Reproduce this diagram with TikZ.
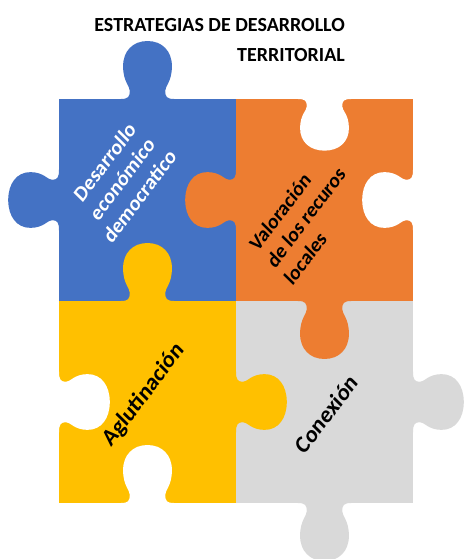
\documentclass[tikz,border=0pt]{standalone}
\usepackage{fontspec}
\setmainfont{Carlito}
\definecolor{pblue}{HTML}{4472C4}
\definecolor{porange}{HTML}{ED7D31}
\definecolor{pyellow}{HTML}{FFC000}
\definecolor{pgray}{HTML}{D9D9D9}
\newcommand\tabshape{(0.15,-0.02) -- (0.15,0) .. controls (0.11,0) and (0.10,0.01) .. (0.10,0.04) .. controls (0.10,0.065) and (0.137,0.085) .. (0.138,0.16) .. controls (0.139,0.24) and (0.08,0.287) .. (0,0.287) .. controls (-0.08,0.287) and (-0.139,0.24) .. (-0.138,0.16) .. controls (-0.137,0.085) and (-0.10,0.065) .. (-0.10,0.04) .. controls (-0.10,0.01) and (-0.11,0) .. (-0.15,0) -- (-0.15,-0.02) -- cycle}
\newcommand\htab[4]{\fill[#1,shift={(#2,#3)},x={(177pt,0pt)},y={(0pt,#4pt)}] \tabshape;}
\newcommand\vtab[4]{\fill[#1,shift={(#2,#3)},x={(0pt,-202pt)},y={(#4pt,0pt)}] \tabshape;}
\tikzset{
  piecetxt/.style={font=\bfseries\fontsize{19.5}{23}\selectfont, align=center, inner sep=0pt, yscale=1.14, rotate=49.3},
  bigtxt/.style={font=\bfseries\fontsize{21.5}{25}\selectfont, inner sep=0pt, yscale=1.14, rotate=49.3},
  titletxt/.style={font=\bfseries\fontsize{20}{30}\selectfont, align=right, inner sep=0pt}
}
\begin{document}
\begin{tikzpicture}[x=177pt,y=-202pt]
\useasboundingbox (-59pt,99pt) rectangle (404pt,-460pt);
% squares
\fill[pblue] (0,0) rectangle (1,1);
\fill[porange] (1,0) rectangle (2,1);
\fill[pyellow] (0,1) rectangle (1,2);
\fill[pgray] (1,1) rectangle (2,2);
% tabs and holes
\htab{pblue}{0.5}{0}{202}
\vtab{pblue}{0}{0.5}{-177}
\vtab{porange}{1}{0.5}{-177}
\htab{pyellow}{0.5}{1}{202}
\htab{white}{1.5}{0}{-180}
\vtab{white}{2}{0.5}{-177}
\htab{porange}{1.5}{1}{-202}
\vtab{white}{0}{1.5}{177}
\htab{white}{0.5}{2}{202}
\vtab{pyellow}{1}{1.5}{177}
\vtab{pgray}{2}{1.5}{177}
\htab{pgray}{1.5}{2}{-202}
% texts
\node[titletxt, anchor=north east] (title) at (286pt,81pt) {ESTRATEGIAS DE DESARROLLO\\TERRITORIAL};
\node[piecetxt, text=white] (t1) at (0.356,0.396) {Desarrollo\\económico\\democratico};
\node[piecetxt, align=left, font=\bfseries\fontsize{19}{23}\selectfont] (t2) at (1.395,0.586) {Valoración\\de los recuros\\locales};
\node[bigtxt] (t3) at (0.48,1.465) {Aglutinación};
\node[bigtxt] (t4) at (1.511,1.559) {Conexión};
\end{tikzpicture}
\end{document}
